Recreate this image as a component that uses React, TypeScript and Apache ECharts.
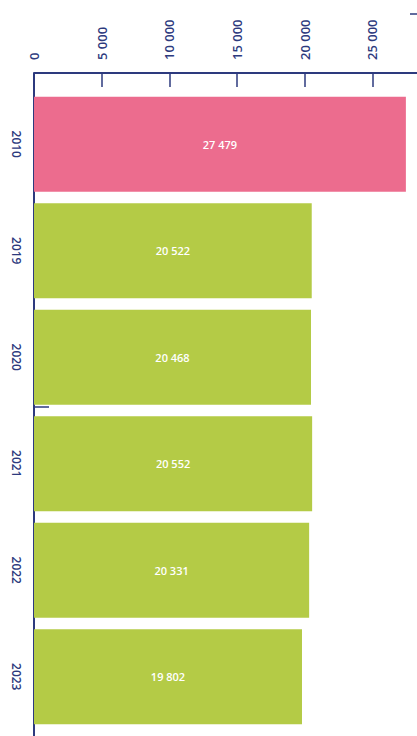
import React, { useEffect, useRef } from "react";
import * as echarts from "echarts";

const categories = ["2010", "2019", "2020", "2021", "2022", "2023"];
const values = [27479, 20522, 20468, 20552, 20331, 19802];
const barColors = ["#EC6C8E", "#B4CB46", "#B4CB46", "#B4CB46", "#B4CB46", "#B4CB46"];
const axisMin = 0;
const axisMax = 30000;
const axisStep = 5000;

const NAVY = "#2D3A7E";
const fmt = (v: number) => String(v).replace(/\B(?=(\d{3})+(?!\d))/g, " ");

export default function App() {
  const ref = useRef<HTMLDivElement>(null);
  useEffect(() => {
    if (!ref.current) return;
    const chart = echarts.init(ref.current, undefined, { renderer: "svg" });
    chart.setOption({
      animation: false,
      textStyle: { fontFamily: "Open Sans" },
      grid: { left: 34, top: 91, right: -23, bottom: 6, containLabel: false, outerBoundsMode: "none" },
      xAxis: {
        type: "value",
        position: "top",
        offset: 18,
        min: axisMin,
        max: axisMax,
        interval: axisStep,
        splitLine: { show: false },
        axisLine: { show: true, lineStyle: { color: NAVY, width: 2 } },
        axisTick: { show: true, inside: true, length: 14, lineStyle: { color: NAVY, width: 1.5 } },
        axisLabel: {
          rotate: -90,
          margin: 13,
          color: NAVY,
          fontSize: 13,
          fontWeight: 600,
          fontFamily: "Open Sans",
          showMaxLabel: false,
          formatter: (v: number) => fmt(v),
        },
      },
      yAxis: {
        type: "category",
        inverse: true,
        data: categories,
        axisLine: { show: true, lineStyle: { color: NAVY, width: 2 } },
        axisTick: { show: false },
        axisLabel: {
          rotate: -90,
          margin: 12,
          color: NAVY,
          fontSize: 12,
          fontWeight: 600,
          fontFamily: "Open Sans",
        },
      },
      series: [
        {
          type: "bar",
          barWidth: 95,
          data: values.map((v, i) => ({ value: v, itemStyle: { color: barColors[i] } })),
          label: {
            show: true,
            position: "inside",
            color: "#ffffff",
            fontSize: 11,
            fontWeight: 600,
            fontFamily: "Open Sans",
            formatter: (p: any) => fmt(p.value),
          },
        },
      ],
      graphic: [
        { type: "line", shape: { x1: 34, y1: 73, x2: 34, y2: 736 }, style: { stroke: NAVY, lineWidth: 2 }, z: -1 },
        { type: "line", shape: { x1: 34, y1: 407, x2: 49, y2: 407 }, style: { stroke: NAVY, lineWidth: 1.5 } },
        { type: "line", shape: { x1: 410, y1: 14, x2: 417, y2: 14 }, style: { stroke: NAVY, lineWidth: 1.5 } },
      ],
    });
    return () => chart.dispose();
  }, []);
  return (
    <div
      ref={ref}
      style={{ position: "fixed", left: 0, top: 0, width: 417, height: 736, background: "#ffffff" }}
    />
  );
}
